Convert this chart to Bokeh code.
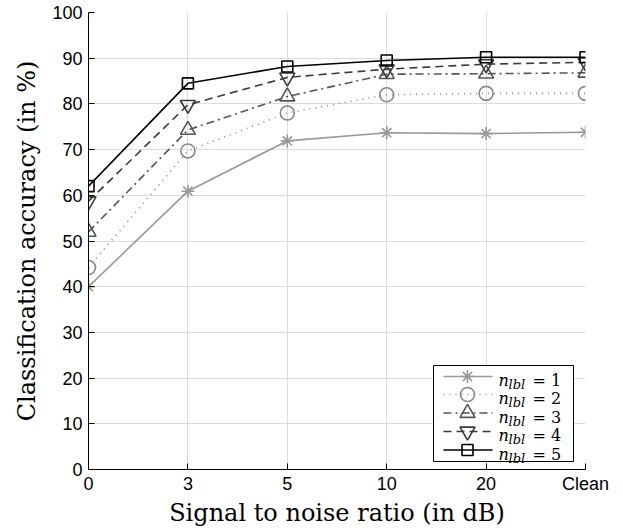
from bokeh.plotting import figure
from bokeh.models import Range1d, FixedTicker, Label
from bokeh.embed import file_html
from bokeh.resources import INLINE

snr_labels = ["0", "3", "5", "10", "20", "Clean"]
acc_n1 = [40.0, 60.9, 71.9, 73.7, 73.5, 73.8]
acc_n2 = [44.2, 69.7, 78.0, 82.0, 82.3, 82.3]
acc_n3 = [52.0, 74.3, 81.6, 86.5, 86.6, 86.8]
acc_n4 = [58.7, 79.8, 85.8, 87.6, 88.7, 89.1]
acc_n5 = [62.0, 84.5, 88.2, 89.5, 90.2, 90.2]
legend_nums = ["1", "2", "3", "4", "5"]

xi = list(range(len(snr_labels)))

FW, FH = 497, 457  # frame size in pixels
p = figure(width=623, height=531, output_backend="svg", toolbar_location=None,
           x_range=Range1d(0, len(snr_labels) - 1), y_range=Range1d(0, 100),
           min_border_left=88, min_border_right=38, min_border_top=12, min_border_bottom=62)
p.extra_x_ranges = {"px": Range1d(0, FW)}
p.extra_y_ranges = {"px": Range1d(0, FH)}
p.outline_line_color = None
p.background_fill_color = "white"
p.border_fill_color = "white"

p.xaxis.ticker = FixedTicker(ticks=xi)
p.xaxis.major_label_overrides = {i: s for i, s in enumerate(snr_labels)}
p.yaxis.ticker = FixedTicker(ticks=list(range(0, 101, 10)))
p.xgrid.ticker = FixedTicker(ticks=xi[1:])
p.ygrid.ticker = FixedTicker(ticks=list(range(10, 100, 10)))
p.grid.grid_line_color = "#dcdcdc"
p.grid.grid_line_width = 1

for ax in (p.xaxis, p.yaxis):
    ax.axis_line_color = "black"
    ax.axis_line_width = 1
    ax.major_tick_in = 6
    ax.major_tick_out = 0
    ax.minor_tick_line_color = None
    ax.major_tick_line_color = "black"
    ax.major_label_text_font = "Liberation Sans"
    ax.major_label_text_font_size = "18px"
    ax.major_label_text_color = "black"
    ax.axis_label_text_font = "DejaVu Serif"
    ax.axis_label_text_font_size = "24px"
    ax.axis_label_text_font_style = "normal"
    ax.axis_label_text_color = "black"
p.xaxis.major_label_standoff = 4
p.yaxis.major_label_standoff = 6
p.xaxis.axis_label = "Signal to noise ratio (in dB)"
p.yaxis.axis_label = "Classification accuracy (in %)"
p.xaxis.axis_label_standoff = 2
p.yaxis.axis_label_standoff = 8

styles = [
    (acc_n1, "#999999", "solid", "asterisk", 13),
    (acc_n2, "#888888", "1 5", "circle", 14),
    (acc_n3, "#555555", "8 4 2 4", "triangle", 15),
    (acc_n4, "#3a3a3a", "8 5", "inverted_triangle", 15),
    (acc_n5, "#000000", "solid", "square", 11),
]
for vals, col, dash, mk, sz in styles:
    p.line(xi, vals, line_color=col, line_width=1.6, line_dash=dash)
    p.scatter(xi, vals, marker=mk, size=sz, line_color=col, line_width=1.6,
              fill_color=None)

# legend (drawn in frame-pixel coordinates through the "px" ranges)
p.quad(left=[345], right=[485], bottom=[8], top=[104], x_range_name="px", y_range_name="px",
       fill_color="white", line_color="black", line_width=1)
row_py = [93, 75, 56.5, 38, 19.5]
for k, (vals, col, dash, mk, sz) in enumerate(styles):
    yy = row_py[k]
    p.line([355, 404], [yy, yy], x_range_name="px", y_range_name="px",
           line_color=col, line_width=1.6, line_dash=dash)
    p.scatter([379], [yy], x_range_name="px", y_range_name="px", marker=mk, size=sz,
              line_color=col, line_width=1.6, fill_color=None)
    p.add_layout(Label(x=410, y=yy - 4, x_units="screen", y_units="screen", text="n",
                       text_font="DejaVu Serif", text_font_style="italic",
                       text_baseline="alphabetic",
                       text_font_size="16px", text_color="black"))
    p.add_layout(Label(x=420, y=yy - 8, x_units="screen", y_units="screen", text="lbl",
                       text_font="DejaVu Serif", text_font_style="italic",
                       text_baseline="alphabetic",
                       text_font_size="13px", text_color="black"))
    p.add_layout(Label(x=444, y=yy - 4, x_units="screen", y_units="screen",
                       text="= " + legend_nums[k],
                       text_font="DejaVu Serif", text_baseline="alphabetic",
                       text_font_size="16px", text_color="black"))

open("out.html", "w").write(file_html(p, INLINE))
